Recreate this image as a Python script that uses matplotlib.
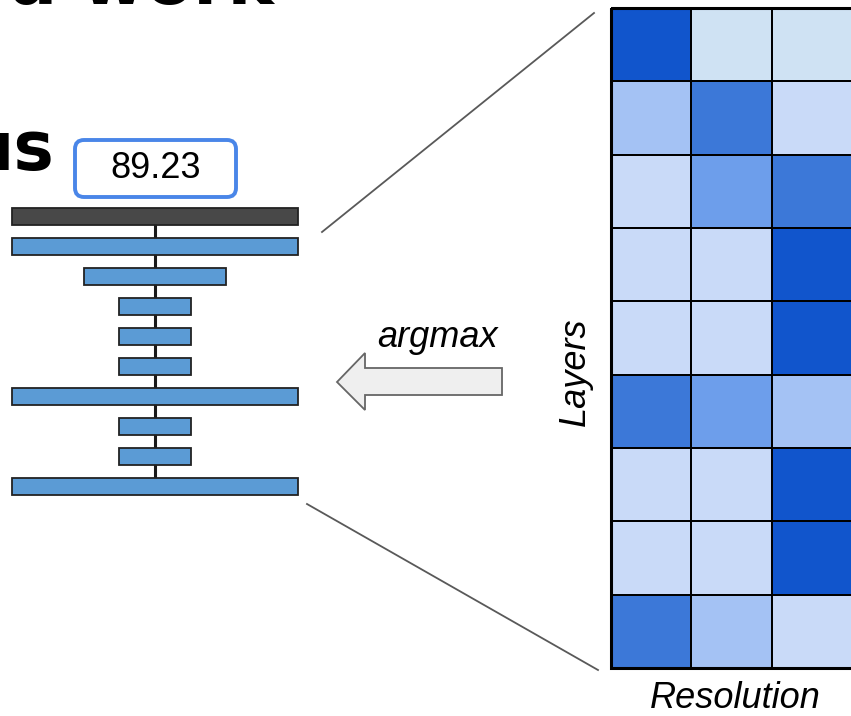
import numpy as np
import matplotlib.pyplot as plt
from matplotlib.colors import ListedColormap
from matplotlib.patches import FancyBboxPatch, Polygon, Rectangle

# Selection scores per layer (rows) and resolution (columns), 0 = lowest, 5 = highest
score_levels = [
    [5, 0, 0],
    [2, 4, 1],
    [1, 3, 4],
    [1, 1, 5],
    [1, 1, 5],
    [4, 3, 2],
    [1, 1, 5],
    [1, 1, 5],
    [4, 2, 1],
]
level_colors = ["#cfe2f3", "#c9daf8", "#a4c2f4", "#6d9eeb", "#3c78d8", "#1155cc"]

# Network blocks: relative width of each block, top (stem) block first
block_widths = [4, 4, 2, 1, 1, 1, 4, 1, 1, 4]
accuracy = 89.23

plt.rcParams["font.family"] = ["Liberation Sans", "DejaVu Sans"]

fig = plt.figure(figsize=(8.51, 7.16), dpi=100)
ax = fig.add_axes([0, 0, 1, 1])
ax.set_xlim(0, 851)
ax.set_ylim(716, 0)
ax.axis("off")

# title fragments cut by the frame
ax.text(10, 4, "a work", fontsize=50, fontweight="bold", family="DejaVu Sans",
        ha="left", va="baseline")
ax.text(55, 170, "us", fontsize=49, fontweight="bold", family="DejaVu Sans",
        ha="right", va="baseline")

# heatmap of per-layer resolution choices
grid = np.array(score_levels)
n_rows, n_cols = grid.shape
x_edges = 611 + 80.4 * np.arange(n_cols + 1)
y_edges = 8 + 73.33 * np.arange(n_rows + 1)
ax.pcolormesh(x_edges, y_edges, grid, cmap=ListedColormap(level_colors),
              vmin=-0.5, vmax=len(level_colors) - 0.5,
              edgecolors="black", linewidth=1.3)
ax.add_patch(Rectangle((x_edges[0], y_edges[0]), x_edges[-1] - x_edges[0],
                       y_edges[-1] - y_edges[0], fill=False,
                       edgecolor="black", lw=2.2, zorder=3))
ax.text(575, 372, "Layers", fontsize=26, style="italic", rotation=90,
        ha="center", va="center")
ax.text(735, 708, "Resolution", fontsize=26, style="italic",
        ha="center", va="baseline")

# network diagram
cx = 155
widths = 71.3 * np.array(block_widths)
ys = 216.5 + 30.05 * np.arange(len(block_widths))
colors = ["#484848"] + ["#5b9bd5"] * (len(block_widths) - 1)
ax.plot([cx, cx], [ys[0], ys[-1]], color="#1a1a1a", lw=2.2, zorder=1)
ax.barh(ys, widths, height=17, left=cx - widths / 2, color=colors,
        edgecolor="#222222", linewidth=1.3, zorder=2)

# accuracy box
ax.add_patch(FancyBboxPatch((75, 140), 161, 57,
                            boxstyle="round,pad=0,rounding_size=9",
                            facecolor="white", edgecolor="#4a86e8", lw=2.8))
ax.text(156, 168, f"{accuracy:.2f}", fontsize=26, ha="center", va="center")

# zoom lines from network to heatmap
ax.plot([322, 594], [232, 13], color="#595959", lw=1.3)
ax.plot([307, 598], [504, 670], color="#595959", lw=1.3)

# argmax arrow
ax.add_patch(Polygon([(502, 368), (365, 368), (365, 353), (337, 382),
                      (365, 410), (365, 395), (502, 395)],
                     closed=True, facecolor="#efefef", edgecolor="#666666", lw=1.3))
ax.text(437, 347, "argmax", fontsize=26, style="italic",
        ha="center", va="baseline")

fig.savefig("out.png", dpi=100)
